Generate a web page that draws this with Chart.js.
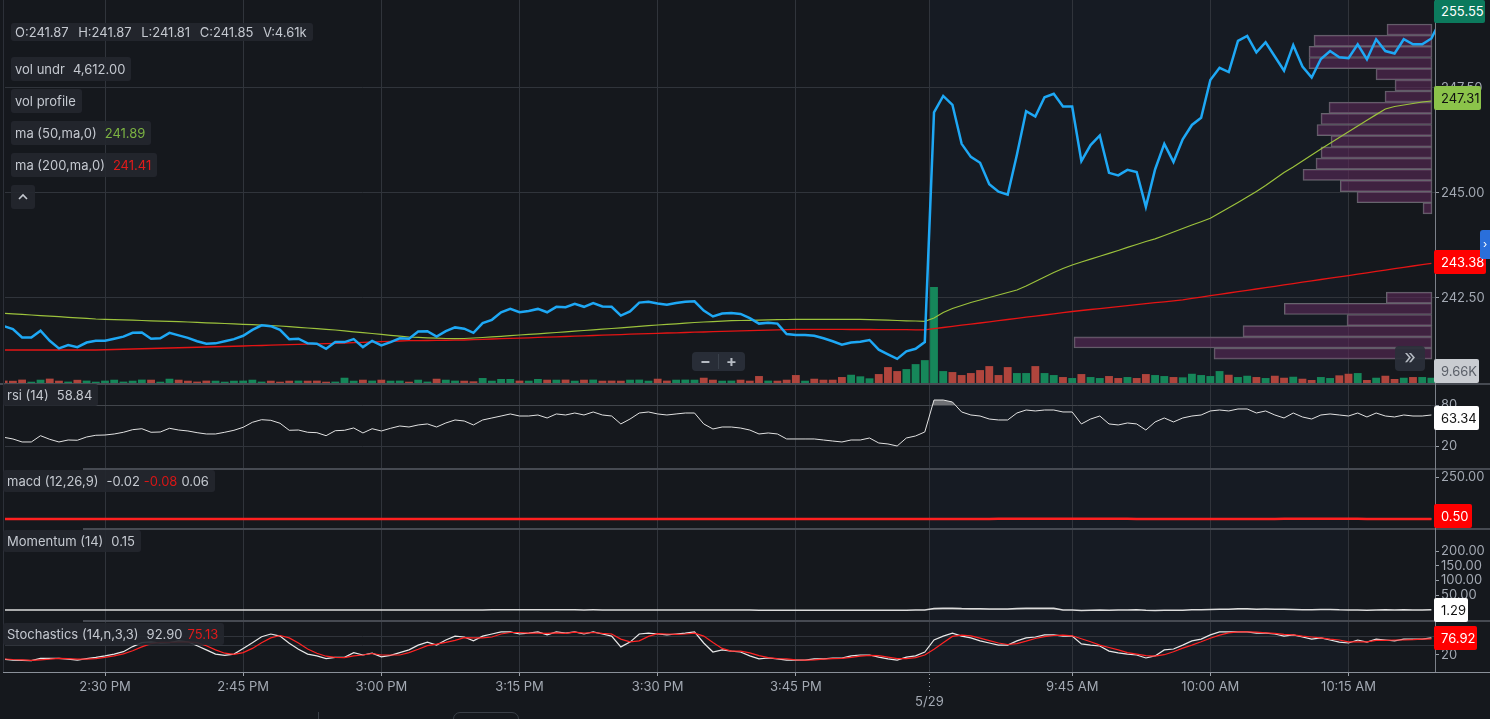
<!DOCTYPE html>
<html><head><meta charset="utf-8">
<script src="https://cdn.jsdelivr.net/npm/chart.js@4.4.1/dist/chart.umd.min.js"></script>
<style>
html,body{margin:0;padding:0;background:#15181d;overflow:hidden;}
#root{position:relative;width:1490px;height:719px;background:#15181d;font-family:Inter,'Noto Sans',sans-serif;font-size:13px;color:#c5c9d0;overflow:hidden;}
canvas{position:absolute;left:0;}
.lg{position:absolute;left:11px;height:24px;line-height:24px;padding:0 6px 0 4px;background:rgba(35,39,47,0.9);border-radius:3px;white-space:nowrap;color:#c5c9d0;}
.pl{left:3px;height:22px;line-height:22px;}
.v{margin-left:8px;}
.o{margin-left:9.5px;}
.tag{position:absolute;left:1434px;height:24px;line-height:24px;padding-left:7px;box-sizing:border-box;border-radius:2px;white-space:nowrap;}
.hl{position:absolute;height:2px;background:#464a52;}
.btn{position:absolute;background:rgba(42,48,57,0.92);border-radius:4px;color:#b6bbc3;text-align:center;}
</style></head>
<body><div id="root">
<canvas id="cMain" width="1490" height="383" style="top:0px"></canvas>
<canvas id="cRsi" width="1490" height="83" style="top:385px"></canvas>
<canvas id="cMacd" width="1490" height="58" style="top:470px"></canvas>
<canvas id="cMom" width="1490" height="90" style="top:530px"></canvas>
<canvas id="cSto" width="1490" height="97" style="top:622px"></canvas>

<div class="hl" style="top:383px;left:0;width:1490px"></div>
<div class="hl" style="top:468px;left:83px;width:1407px"></div>
<div class="hl" style="top:528px;left:83px;width:1407px"></div>
<div class="hl" style="top:620px;left:83px;width:1407px"></div>
<div style="position:absolute;left:1435px;top:0;width:1px;height:672px;background:#7b8089"></div>
<div style="position:absolute;left:3px;top:672px;width:1487px;height:1px;background:#8a9099"></div>
<div style="position:absolute;left:3px;top:0;width:1px;height:672px;background:#2c3038"></div>

<div class="lg" style="top:23px;height:18px;line-height:18px"><span>O:241.87</span><span class="o">H:241.87</span><span class="o">L:241.81</span><span class="o">C:241.85</span><span class="o">V:4.61k</span></div>
<div class="lg" style="top:57px">vol undr<span class="v">4,612.00</span></div>
<div class="lg" style="top:89px">vol profile</div>
<div class="lg" style="top:121px">ma (50,ma,0)<span class="v" style="color:#7cb342">241.89</span></div>
<div class="lg" style="top:153px">ma (200,ma,0)<span class="v" style="color:#e01b1b">241.41</span></div>
<div class="lg" style="top:185px;width:24px;padding:0;"><svg width="24" height="24" style="display:block"><polyline points="8,14 12,10 16,14" fill="none" stroke="#c5c9d0" stroke-width="1.6"/></svg></div>

<div class="lg pl" style="top:384px">rsi (14)<span class="v">58.84</span></div>
<div class="lg pl" style="top:470px">macd (12,26,9)<span class="v">-0.02</span><span style="margin-left:4px;color:#d81616">-0.08</span><span style="margin-left:4px">0.06</span></div>
<div class="lg pl" style="top:530px">Momentum (14)<span class="v">0.15</span></div>
<div class="lg pl" style="top:623px">Stochastics (14,n,3,3)<span class="v">92.90</span><span style="margin-left:5px;color:#e01b1b">75.13</span></div>

<div class="tag" style="top:0;height:23px;line-height:23px;width:51px;background:#0c7a5d;color:#fff">255.55</div>
<div class="tag" style="top:86px;width:47px;background:#8bc34a;color:#111">247.31</div>
<div class="tag" style="top:250px;width:52px;background:#ff0000;color:#fff">243.38</div>
<div class="tag" style="top:359px;width:45px;background:#c9ccd1;color:#5a5f68">9.66K</div>
<div class="tag" style="top:406px;width:45px;background:#ffffff;color:#111">63.34</div>
<div class="tag" style="top:504px;width:38px;background:#ff0000;color:#fff">0.50</div>
<div class="tag" style="top:598px;width:34px;background:#ffffff;color:#111">1.29</div>
<div class="tag" style="top:626px;width:43px;background:#ff0000;color:#fff">76.92</div>
<div style="position:absolute;left:1480px;top:230px;width:10px;height:29px;background:#2a6fdb;border-radius:3px 0 0 3px;color:#fff;font-size:11px;line-height:29px;text-align:center">›</div>

<div class="btn" style="left:692px;top:352px;width:53px;height:19px;line-height:19px;font-size:16px;font-weight:700"><span style="position:absolute;left:8px">−</span><span style="position:absolute;left:26px;top:2px;width:1px;height:15px;background:#3a414b"></span><span style="position:absolute;left:34px">+</span></div>
<div class="btn" style="left:1395px;top:346px;width:30px;height:25px;line-height:23px;font-size:20px">»</div>

<div style="position:absolute;left:318px;top:712px;width:1px;height:8px;background:#3a3f47"></div>
<div style="position:absolute;left:453px;top:712px;width:64px;height:14px;border:1px solid #3a3f47;border-radius:7px"></div>

<script>
// ---------- data ----------
const X_MIN = 0.143, X_MAX = 155.39;               // visible bar-index window
const xTickVals = [11, 26, 41, 56, 71, 86, 100.5, 116, 131, 146];
const xTickLabels = ['2:30 PM','2:45 PM','3:00 PM','3:15 PM','3:30 PM','3:45 PM','5/29','9:45 AM','10:00 AM','10:15 AM'];
const sessionBreak = 100.5, shadeEnd = 146;

const price = [241.83,241.76,241.56,241.56,241.72,241.48,241.30,241.38,241.33,241.44,
241.48,241.48,241.53,241.58,241.67,241.68,241.53,241.54,241.67,241.61,
241.55,241.47,241.41,241.42,241.47,241.52,241.60,241.74,241.85,241.83,
241.74,241.52,241.53,241.42,241.41,241.29,241.45,241.45,241.52,241.33,
241.48,241.37,241.45,241.54,241.53,241.70,241.71,241.58,241.71,241.80,
241.77,241.67,241.90,241.98,242.16,242.24,242.16,242.19,242.24,242.16,
242.29,242.28,242.36,242.29,242.38,242.30,242.29,242.08,242.18,242.39,
242.41,242.37,242.34,242.38,242.41,242.42,242.20,242.06,242.13,242.14,
242.12,242.02,241.89,241.91,241.89,241.64,241.62,241.62,241.60,241.54,
241.47,241.39,241.44,241.46,241.50,241.27,241.16,241.05,241.23,241.29,
241.45,246.92,247.31,247.10,246.17,245.86,245.72,245.21,245.03,244.96,
245.91,246.95,246.82,247.28,247.36,247.06,247.06,245.76,246.14,246.37,
245.48,245.42,245.55,245.50,244.67,245.56,246.17,245.74,246.28,246.62,
246.79,247.69,247.98,247.88,248.62,248.74,248.35,248.59,248.25,247.91,
248.52,248.01,247.75,248.19,248.38,248.23,248.21,248.54,248.18,248.66,
248.38,248.32,248.66,248.54,248.54,248.68,249.12];

const volume = [240,220,340,130,330,440,230,140,320,240,
130,240,330,140,230,340,330,130,430,330,
230,140,240,230,130,230,240,330,140,230,
130,230,240,230,240,130,140,530,230,330,
240,330,230,240,130,330,140,430,330,240,
230,170,500,230,400,400,240,230,400,330,
330,340,230,330,340,230,240,230,330,340,
230,430,240,330,340,330,530,330,230,240,
330,230,700,240,230,330,800,230,430,330,
330,600,830,670,470,900,1600,1200,1400,1900,
2300,9660,1200,1100,800,1000,1300,1700,800,1600,
1000,1000,1700,1000,800,600,500,900,600,500,
700,500,600,500,900,800,700,600,
570,930,800,700,1200,830,600,730,600,500,730,530,630,430,300,600,500,770,930,1000,300,530,730,400,530,600,600,530];

const ma50 = [242.135,242.121,242.109,242.095,242.081,242.066,242.055,242.040,242.026,242.014,
242.000,241.993,241.985,241.978,241.971,241.964,241.957,241.950,241.943,241.935,
241.928,241.919,241.909,241.900,241.893,241.883,241.874,241.864,241.855,241.843,
241.833,241.816,241.802,241.785,241.769,241.755,241.738,241.716,241.695,241.676,
241.655,241.633,241.612,241.593,241.571,241.562,241.552,241.545,241.535,241.533,
241.535,241.547,241.559,241.574,241.588,241.605,241.619,241.633,241.647,241.664,
241.678,241.695,241.709,241.726,241.743,241.757,241.774,241.790,241.807,241.824,
241.840,241.857,241.871,241.885,241.902,241.916,241.928,241.938,241.950,241.959,
241.964,241.969,241.974,241.978,241.983,241.988,241.993,241.993,241.993,241.993,
241.993,241.993,241.993,241.993,241.985,241.978,241.971,241.964,241.957,241.952,
241.945,242.024,242.155,242.250,242.321,242.393,242.452,242.512,242.571,242.631,
242.690,242.785,242.893,243.000,243.107,243.202,243.285,243.357,243.424,243.493,
243.562,243.631,243.705,243.774,243.845,243.909,243.988,244.071,244.155,244.238,
244.316,244.397,244.524,244.650,244.776,244.905,245.035,245.178,245.333,245.488,
245.619,245.762,245.905,246.047,246.183,246.321,246.457,246.595,246.731,246.866,
247.000,247.059,247.095,247.131,247.166,247.190];

const ma200 = [241.262,241.262,241.262,241.262,241.262,241.262,241.262,241.262,241.262,241.262,
241.262,241.268,241.274,241.280,241.285,241.291,241.297,241.303,241.309,241.315,
241.321,241.327,241.333,241.339,241.345,241.351,241.357,241.364,241.369,241.376,
241.383,241.390,241.395,241.402,241.409,241.414,241.421,241.428,241.438,241.445,
241.452,241.459,241.469,241.476,241.483,241.485,241.488,241.491,241.494,241.497,
241.500,241.507,241.514,241.524,241.531,241.538,241.545,241.552,241.562,241.569,
241.576,241.583,241.590,241.600,241.607,241.614,241.621,241.628,241.638,241.645,
241.652,241.659,241.666,241.671,241.678,241.685,241.690,241.697,241.705,241.709,
241.716,241.724,241.728,241.735,241.743,241.747,241.755,241.755,241.755,241.752,
241.752,241.752,241.750,241.750,241.750,241.748,241.748,241.745,241.745,241.743,
241.743,241.769,241.797,241.824,241.852,241.878,241.905,241.933,241.959,241.988,
242.014,242.043,242.069,242.095,242.124,242.150,242.178,242.202,242.226,242.247,
242.271,242.295,242.316,242.340,242.364,242.388,242.409,242.433,242.457,242.490,
242.521,242.555,242.585,242.619,242.650,242.683,242.714,242.747,242.778,242.812,
242.843,242.876,242.907,242.940,242.971,243.005,243.035,243.069,243.100,243.133,
243.164,243.197,243.228,243.262,243.293,243.326];

const rsi = [33.5,31.0,26.6,26.6,35.8,30.5,26.6,29.5,29.1,33.9,
36.4,36.8,38.3,40.8,44.6,46.0,40.8,41.2,46.6,44.1,
42.7,40.2,38.3,38.3,40.8,43.7,48.1,55.4,59.2,58.3,
54.0,43.7,44.1,40.8,40.2,35.8,43.1,43.7,47.1,39.8,
46.0,42.7,46.6,50.0,48.5,51.5,53,48.5,54.4,58.8,
57.3,51.5,58.8,61.7,64.6,67.6,64.6,64.6,66.1,61.7,
67.6,66.1,69,66.1,70.5,66.1,64.6,53,60.2,69,
70.5,67.6,66.1,67.6,69,69,53,45.6,48.5,48.5,
47,44.1,38.3,39.8,38.3,31,31,31,31,29.5,
28,26.6,29.5,29.5,32.4,25.1,23.7,20.7,32.4,35.4,
41.2,88,88,85.1,70.5,66.1,64.6,60.2,58.8,58.8,
69,73.4,72,73.4,73.4,70.5,70.5,53,60.2,64.6,
53,51.5,54.4,53,44.1,55.9,61.7,55.9,61.7,64.6,
66.1,72,73.4,72,74.9,74.9,69,72,66.1,61.7,
69,63.2,60.2,66.1,67.6,66.1,64.6,69,63.2,69,
64.6,63.2,66.1,64.6,64.6,66.1];

const macdLine = [-0.03,-0.03,-0.04,-0.05,-0.05,-0.06,-0.07,-0.07,-0.08,-0.07,-0.07,-0.06,-0.06,-0.05,-0.04,-0.03,-0.03,-0.03,-0.02,-0.02,
-0.02,-0.03,-0.03,-0.04,-0.04,-0.03,-0.02,0.00,0.02,0.03,0.03,0.02,0.01,0.00,-0.01,-0.03,-0.03,-0.03,-0.03,-0.04,
-0.04,-0.05,-0.05,-0.04,-0.04,-0.02,-0.01,-0.01,0.00,0.02,0.03,0.03,0.05,0.07,0.10,0.12,0.13,0.14,0.15,0.15,
0.16,0.16,0.17,0.17,0.17,0.17,0.16,0.14,0.13,0.14,0.14,0.14,0.14,0.13,0.13,0.13,0.11,0.08,0.07,0.06,
0.05,0.03,0.01,0.00,-0.02,-0.05,-0.07,-0.09,-0.10,-0.12,-0.13,-0.15,-0.15,-0.15,-0.15,-0.17,-0.19,-0.22,-0.22,-0.22,
-0.20,0.24,0.61,0.86,0.97,1.02,1.03,0.99,0.93,0.87,0.89,0.98,1.03,1.09,1.12,1.11,1.09,0.96,0.87,0.81,
0.69,0.58,0.50,0.43,0.30,0.26,0.27,0.24,0.26,0.30,0.35,0.45,0.55,0.62,0.72,0.80,0.83,0.87,0.86,0.82,
0.83,0.80,0.75,0.74,0.74,0.72,0.70,0.71,0.68,0.70,0.69,0.67,0.69,0.68,0.67,0.68];

const macdSignal = [-0.02,-0.02,-0.03,-0.03,-0.03,-0.04,-0.04,-0.05,-0.05,-0.05,-0.06,-0.06,-0.06,-0.06,-0.05,-0.05,-0.05,-0.04,-0.04,-0.04,
-0.03,-0.03,-0.03,-0.03,-0.03,-0.03,-0.03,-0.03,-0.02,-0.01,0.00,0.00,0.00,0.00,0.00,0.00,-0.01,-0.01,-0.02,-0.02,
-0.02,-0.03,-0.03,-0.03,-0.03,-0.03,-0.03,-0.03,-0.02,-0.02,-0.01,0.00,0.01,0.02,0.04,0.05,0.07,0.08,0.09,0.10,
0.11,0.12,0.13,0.14,0.14,0.15,0.15,0.15,0.15,0.15,0.15,0.15,0.15,0.14,0.14,0.14,0.14,0.13,0.12,0.11,
0.10,0.09,0.08,0.06,0.05,0.03,0.01,-0.01,-0.03,-0.05,-0.06,-0.08,-0.09,-0.10,-0.11,-0.12,-0.14,-0.15,-0.17,-0.18,
-0.18,-0.09,0.05,0.21,0.36,0.49,0.60,0.67,0.73,0.76,0.78,0.82,0.86,0.91,0.95,0.98,1.00,0.99,0.97,0.94,
0.89,0.83,0.76,0.70,0.62,0.55,0.50,0.44,0.41,0.39,0.38,0.40,0.43,0.47,0.52,0.58,0.63,0.68,0.71,0.74,
0.75,0.76,0.76,0.76,0.75,0.75,0.74,0.73,0.72,0.72,0.71,0.70,0.70,0.70,0.69,0.69];

const momentum = [0.1,-0.1,-0.2,-0.3,0.0,-0.2,-0.4,-0.3,-0.4,-0.2,-0.2,-0.2,-0.2,-0.1,-0.2,-0.1,0.0,0.0,-0.1,0.1,
0.3,0.1,0.1,0.0,0.0,0.0,0.1,0.2,0.2,0.2,0.2,0.0,-0.1,-0.2,-0.3,-0.4,-0.2,-0.3,-0.1,-0.3,
-0.3,-0.4,-0.4,-0.3,-0.3,0.0,0.3,0.3,0.3,0.4,0.3,0.3,0.4,0.6,0.6,0.8,0.7,0.7,0.7,0.5,
0.6,0.6,0.7,0.4,0.5,0.3,0.3,0.1,0.0,0.2,0.2,0.2,0.1,0.1,0.2,0.2,-0.1,-0.3,-0.3,-0.3,
-0.3,-0.4,-0.5,-0.5,-0.5,-0.8,-0.6,-0.7,-0.7,-0.8,-0.7,-0.8,-0.7,-0.6,-0.6,-0.6,-0.5,-0.6,-0.5,-0.3,
-0.2,5.3,5.7,5.6,4.7,4.5,4.3,3.8,3.5,3.7,4.8,5.9,5.6,6.0,5.9,
0.1,-0.3,-1.3,-0.8,-0.4,-0.7,-0.3,-0.3,0.5,-1.2,-1.4,-0.8,-1.1,-1.1,0.7,0.6,2.1,2.5,2.4,3.9,
4.3,2.8,3.0,2.7,2.4,2.1,1.2,1.2,1.9,1.6,0.5,0.3,0.3,-0.6,-0.1,0.6,0.4,0.9,0.3,-0.2,0.5];

const stochK = [6,3,2,1,9,9,9,6,3,8,12,17,23,31,48,61,64,60,61,67,64,51,37,23,19,23,42,61,81,90,83,59,39,23,17,8,12,12,28,20,26,14,19,28,
37,53,63,53,70,83,80,67,83,90,
97,97,90,93,97,87,97,93,97,90,
97,90,83,47,63,90,93,90,87,90,
93,97,60,30,37,33,30,17,7,10,
7,3,3,3,7,7,10,10,17,20,
20,13,7,3,13,17,30,70,83,93,
83,77,67,60,53,53,67,77,80,87,
87,83,83,57,53,50,33,27,23,20,
10,17,37,40,53,67,73,87,97,97,
97,97,93,93,90,83,87,80,73,77,
70,63,60,70,63,73,70,67,73,73,
73,77];

const stochD = [7,5,4,2,4,6,9,8,6,6,
8,12,17,24,34,47,58,62,62,63,
64,61,51,37,26,22,28,42,61,77,
85,77,60,40,26,16,12,11,17,20,
25,20,20,20,28,39,51,56,62,69,
78,77,77,80,90,95,95,93,93,92,
94,92,96,93,95,92,90,73,64,67,
82,91,90,89,90,93,83,62,42,33,
33,27,18,11,8,7,4,3,4,6,
8,9,12,16,19,18,13,8,8,11,
20,39,61,82,86,84,76,68,60,55,
58,66,75,81,85,86,84,74,64,53,
45,37,28,23,18,16,21,31,43,53,
64,76,86,94,97,97,96,94,92,89,
87,83,80,77,73,70,64,64,64,69,
69,70,70,71,73,74];

// volume profile (price bin centre, volume)
const vpPrice = [248.891,248.625,248.359,248.093,247.827,247.561,247.295,247.029,246.763,246.497,246.231,245.965,245.699,245.433,245.167,244.901,244.635,
242.507,242.241,241.975,241.709,241.443,241.177];
const vpVol = [2700,7080,7380,7380,3360,2220,2820,6180,6660,6900,6060,6660,6960,7740,5500,4500,540,
2740,8860,5100,11340,21480,13080];

const priceTicks = [242.5, 245, 247.5];
const rsiTicks = [20, 80];
const macdTicks = [250];
const momTicks = [50, 100, 150, 200];
const stochTicks = [20, 50, 80];

// ---------- chart setup ----------
Chart.defaults.font.family = "Inter, 'Noto Sans', sans-serif";
Chart.defaults.font.size = 13;
const GRID = '#30343b', TICKC = '#9aa0a8', LABC = '#a3a9b3', NONE = 'rgba(0,0,0,0)';
const UP = '#16875a', DN = '#b0453d';
const xy = arr => arr.map((v, i) => ({x: i, y: v}));

function xAxis(show) {
  return {
    type: 'linear', min: X_MIN, max: X_MAX, bounds: 'data', offset: false,
    afterBuildTicks(s) { s.ticks = xTickVals.map(v => ({value: v})); },
    ticks: {
      display: show, autoSkip: false, maxRotation: 0, minRotation: 0, color: LABC, padding: 3,
      callback(v) { const l = xTickLabels[xTickVals.indexOf(v)]; return l === '5/29' ? ['', l] : l; }
    },
    grid: {display: true, offset: false, color: GRID, lineWidth: 1, drawTicks: show, tickLength: 4,
      tickColor: c => (c.tick && c.tick.value === sessionBreak) ? NONE : TICKC},
    border: {display: false},
    afterFit(s) { s.height = show ? 47 : 0; s.paddingLeft = 0; s.paddingRight = 0; }
  };
}
function yAxis(min, max, ticks, fmt, onArea, hideLineAt) {
  return {
    type: 'linear', position: 'right', min, max, bounds: 'data', offset: false, beginAtZero: false,
    afterBuildTicks(s) { s.ticks = ticks.map(v => ({value: v})); },
    ticks: {color: LABC, padding: 2, autoSkip: false, callback: v => fmt(v)},
    grid: {offset: false, drawOnChartArea: onArea, tickColor: TICKC, tickLength: 4,
      color: c => (c.tick && c.tick.value === hideLineAt) ? NONE : GRID},
    border: {display: false},
    afterFit(s) { s.width = 55; s.paddingTop = 0; s.paddingBottom = 0; }
  };
}
const shade = {
  id: 'shade',
  beforeDraw(chart) {
    const {ctx, chartArea: a, scales: {x}} = chart;
    const x1 = x.getPixelForValue(sessionBreak), x2 = x.getPixelForValue(shadeEnd);
    ctx.save(); ctx.fillStyle = '#161b23'; ctx.fillRect(x1, a.top, x2 - x1, a.bottom - a.top); ctx.restore();
  }
};
const dateMark = {
  id: 'dateMark',
  afterDraw(chart) {
    const c = chart.ctx, x = Math.round(chart.scales.x.getPixelForValue(sessionBreak)) + 0.5, y0 = chart.chartArea.bottom;
    c.save(); c.strokeStyle = TICKC; c.lineWidth = 1; c.setLineDash([1, 3]);
    c.beginPath(); c.moveTo(x, y0 + 2); c.lineTo(x, y0 + 21); c.stroke(); c.restore();
  }
};
function opts(scales) {
  return {responsive: false, animation: false, devicePixelRatio: 1, events: [],
    layout: {padding: {left: 5, right: 0, top: 0, bottom: 0}},
    plugins: {legend: {display: false}, tooltip: {enabled: false}}, scales};
}
const line = (data, color, w, order, extra) => Object.assign({type: 'line', data: xy(data), borderColor: color, borderWidth: w,
  pointRadius: 0, tension: 0, fill: false, order}, extra || {});

// main panel
const PRICE_MAX = 249.595, PRICE_MIN = 240.476;
new Chart(document.getElementById('cMain'), {
  type: 'line',
  data: {datasets: [
    line(price, '#1ea8f5', 2.5, 1),
    line(ma50, '#9cc23c', 1.2, 2),
    line(ma200, '#e41414', 1.3, 3),
    {type: 'bar', xAxisID: 'x', yAxisID: 'yVol', data: xy(volume), grouped: false, barPercentage: 0.85, categoryPercentage: 1, order: 4,
      backgroundColor: c => (c.dataIndex > 0 && price[c.dataIndex] >= price[c.dataIndex - 1]) ? UP : DN},
    {type: 'bar', indexAxis: 'y', xAxisID: 'xvp', yAxisID: 'y', grouped: false, order: 5,
      data: vpPrice.map((p, i) => ({x: vpVol[i], y: p})),
      backgroundColor: 'rgba(92,42,88,0.6)', borderColor: '#66656d', borderWidth: 1, borderSkipped: false,
      barPercentage: 1, categoryPercentage: 1}
  ]},
  options: opts({
    x: xAxis(false),
    y: yAxis(PRICE_MIN, PRICE_MAX, priceTicks, v => v.toFixed(2), true),
    yVol: {type: 'linear', axis: 'y', display: false, min: 0, max: 38540, offset: false, beginAtZero: false},
    xvp: {type: 'linear', axis: 'x', display: false, reverse: true, min: -180, max: 85620, offset: false, beginAtZero: false}
  }),
  plugins: [shade]
});

// RSI
new Chart(document.getElementById('cRsi'), {
  type: 'line',
  data: {datasets: [line(rsi, '#e2e2e2', 1, 1, {fill: {target: {value: 80}, above: 'rgba(170,170,170,0.6)', below: NONE}})]},
  options: opts({x: xAxis(false), y: yAxis(-11.5, 110, rsiTicks, v => String(v), true)}),
  plugins: [shade]
});

// MACD
new Chart(document.getElementById('cMacd'), {
  type: 'line',
  data: {datasets: [line(macdLine, '#c9b13c', 1, 2), line(macdSignal, '#ff2020', 2.5, 1)]},
  options: opts({x: xAxis(false), y: yAxis(-53.6, 291.7, macdTicks, v => v.toFixed(2), false)}),
  plugins: [shade]
});

// Momentum
new Chart(document.getElementById('cMom'), {
  type: 'line',
  data: {datasets: [line(momentum, '#dcdcdc', 1.5, 1, {fill: {target: {value: 0}, above: 'rgba(150,150,150,0.55)', below: NONE}})]},
  options: opts({x: xAxis(false), y: yAxis(-33.9, 271.2, momTicks, v => v.toFixed(2), false)}),
  plugins: [shade]
});

// Stochastics
new Chart(document.getElementById('cSto'), {
  type: 'line',
  data: {datasets: [line(stochK, '#e8e8e8', 1.2, 2), line(stochD, '#ff2424', 1.2, 1)]},
  options: opts({x: xAxis(true), y: yAxis(-36.67, 130, stochTicks, v => String(v), true, 20)}),
  plugins: [shade, dateMark]
});
</script>
</div></body></html>
